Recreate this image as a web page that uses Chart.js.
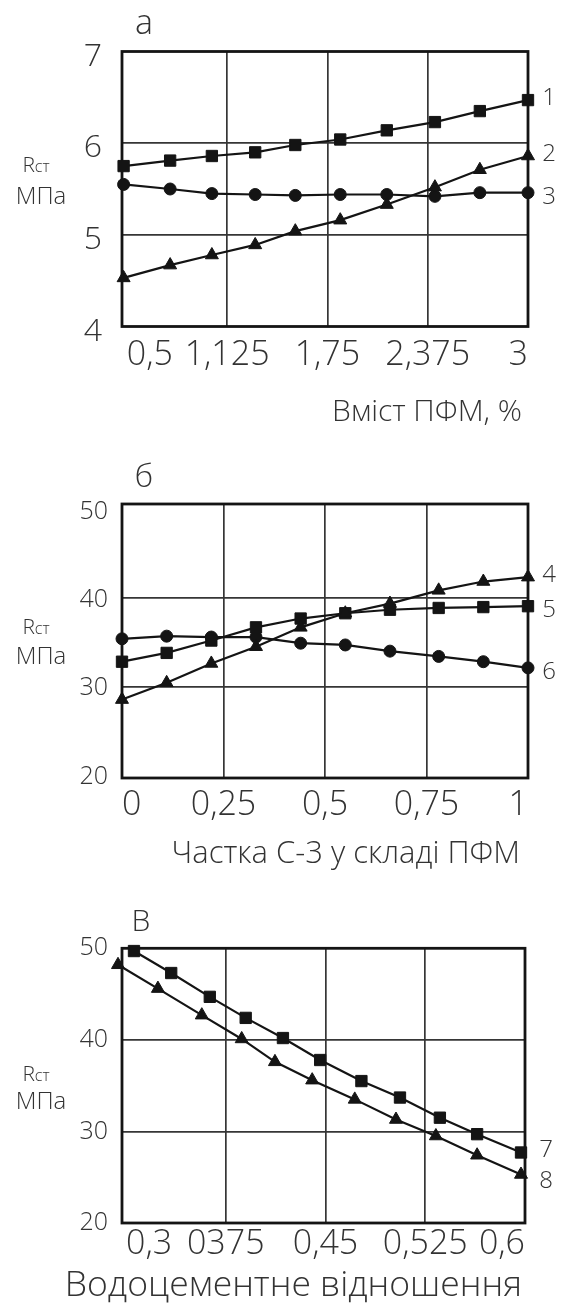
<!DOCTYPE html>
<html>
<head>
<meta charset="utf-8">
<script src="https://cdn.jsdelivr.net/npm/chart.js@4.4.0/dist/chart.umd.min.js"></script>
<style>
html,body{margin:0;padding:0;background:#fff;}
.box{position:relative;width:563px;}
#wa{height:440px}
#wb{height:440px}
#wc{height:429px}
</style>
</head>
<body>
<div class="box" id="wa"><canvas id="ca"></canvas></div>
<div class="box" id="wb"><canvas id="cb"></canvas></div>
<div class="box" id="wc"><canvas id="cc"></canvas></div>
<script>
// ---------- Chart "а": Вміст ПФМ, % ----------
const xA = [0.48, 0.77, 1.03, 1.30, 1.55, 1.83, 2.12, 2.42, 2.70, 3.0];
const s1 = [5.75, 5.81, 5.86, 5.90, 5.98, 6.04, 6.14, 6.23, 6.35, 6.47];
const s2 = [4.53, 4.67, 4.78, 4.89, 5.04, 5.16, 5.33, 5.52, 5.71, 5.86];
const s3 = [5.55, 5.50, 5.45, 5.44, 5.43, 5.44, 5.44, 5.42, 5.46, 5.46];
const xTicksA = [0.5, 1.125, 1.75, 2.375, 3];
const xLabelsA = ['0,5', '1,125', '1,75', '2,375', '3'];
const yTicksA = [4, 5, 6, 7];

// ---------- Chart "б": Частка С-3 у складі ПФМ ----------
const xB = [0, 0.11, 0.22, 0.33, 0.44, 0.55, 0.66, 0.78, 0.89, 1.0];
const s4 = [28.5, 30.4, 32.6, 34.5, 36.7, 38.3, 39.4, 40.9, 41.9, 42.4];
const s5 = [32.8, 33.8, 35.2, 36.7, 37.7, 38.3, 38.7, 38.9, 39.0, 39.1];
const s6 = [35.4, 35.7, 35.6, 35.6, 34.9, 34.7, 34.0, 33.4, 32.8, 32.1];
const xTicksB = [0, 0.25, 0.5, 0.75, 1];
const xLabelsB = ['0', '0,25', '0,5', '0,75', '1'];
const yTicksB = [20, 30, 40, 50];

// ---------- Chart "В": Водоцементне відношення ----------
const xC7 = [0.306, 0.334, 0.363, 0.390, 0.418, 0.446, 0.477, 0.506, 0.536, 0.564, 0.597];
const s7  = [49.7, 47.3, 44.7, 42.4, 40.2, 37.8, 35.5, 33.7, 31.5, 29.7, 27.7];
const xC8 = [0.294, 0.324, 0.357, 0.387, 0.412, 0.440, 0.472, 0.503, 0.533, 0.564, 0.597];
const s8  = [48.2, 45.6, 42.7, 40.1, 37.6, 35.6, 33.5, 31.3, 29.5, 27.4, 25.3];
const xTicksC = [0.3, 0.375, 0.45, 0.525, 0.6];
const xLabelsC = ['0,3', '0375', '0,45', '0,525', '0,6'];
const yTicksC = [20, 30, 40, 50];

// ---------- styling ----------
const FONT = "'Open Sans', 'DejaVu Sans', sans-serif";
const INK = '#141414';
const TXT = '#333333';
const GRID = '#363636';

function series(xs, ys, style, radius) {
  return {
    data: xs.map((x, i) => ({ x: x, y: ys[i] })),
    showLine: true, tension: 0, clip: false,
    borderColor: INK, backgroundColor: INK, borderWidth: 2.2,
    pointStyle: style, pointRadius: radius, pointHoverRadius: radius,
    pointBorderWidth: 1, pointBackgroundColor: INK, pointBorderColor: INK
  };
}

const decor = {
  id: 'decor',
  beforeDatasetsDraw(chart) {
    const { ctx, chartArea: a } = chart;
    ctx.save();
    ctx.lineWidth = 2.8;
    ctx.strokeStyle = INK;
    ctx.strokeRect(a.left, a.top, a.right - a.left, a.bottom - a.top);
    ctx.restore();
  },
  afterDraw(chart, args, o) {
    const { ctx, chartArea: a } = chart;
    ctx.save();
    ctx.fillStyle = TXT;
    ctx.textBaseline = 'middle';
    // panel letter
    ctx.textAlign = 'center';
    ctx.font = `300 ${o.panel.size}px ${FONT}`;
    ctx.fillText(o.panel.text, o.panel.x, o.panel.y);
    // x title
    ctx.textAlign = 'right';
    ctx.font = `300 ${o.xTitle.size}px ${FONT}`;
    ctx.fillText(o.xTitle.text, o.xTitle.x, o.xTitle.y);
    // y title: R + "ст", then МПа
    ctx.textBaseline = 'alphabetic';
    ctx.textAlign = 'left';
    ctx.font = `300 21px ${FONT}`;
    const wR = ctx.measureText('R').width;
    ctx.font = `300 16px ${FONT}`;
    const wS = ctx.measureText('ст').width;
    const x0 = o.yTitle.x - (wR + wS) / 2;
    const base = o.yTitle.y1 + 7;
    ctx.font = `300 21px ${FONT}`;
    ctx.fillText('R', x0, base);
    ctx.font = `300 16px ${FONT}`;
    ctx.fillText('ст', x0 + wR, base);
    ctx.textBaseline = 'middle';
    ctx.textAlign = 'center';
    ctx.font = `300 24px ${FONT}`;
    ctx.fillText('МПа', o.yTitle.x + 5, o.yTitle.y2);
    // series numbers at line ends
    ctx.font = `300 24px ${FONT}`;
    o.labels.forEach(l => {
      const pts = chart.getDatasetMeta(l.ds).data;
      const p = pts[pts.length - 1];
      ctx.fillText(l.text, a.right + 21, p.y + l.dy);
    });
    ctx.restore();
  }
};

function makeChart(id, c) {
  return new Chart(document.getElementById(id), {
    type: 'scatter',
    data: { datasets: c.datasets },
    plugins: [decor],
    options: {
      responsive: true, maintainAspectRatio: false, animation: false,
      devicePixelRatio: 1,
      layout: { padding: { top: c.top, right: c.right, left: 0, bottom: 0 } },
      plugins: {
        legend: { display: false }, tooltip: { enabled: false },
        decor: c.decor
      },
      scales: {
        x: {
          type: 'linear', min: c.xMin, max: c.xMax,
          afterBuildTicks: ax => { ax.ticks = c.xTicks.map(v => ({ value: v })); },
          afterFit: s => { s.height = c.xH; },
          border: { display: false },
          grid: {
            drawTicks: false, lineWidth: 1.7,
            color: g => (g.tick && c.xHide.includes(g.tick.value)) ? 'rgba(0,0,0,0)' : GRID
          },
          ticks: {
            padding: c.xPad, align: 'inner', maxRotation: 0, autoSkip: false,
            color: TXT, font: { family: FONT, size: 34, weight: '300' },
            callback: (v, i) => c.xLabels[i]
          }
        },
        y: {
          type: 'linear', min: c.yMin, max: c.yMax,
          afterBuildTicks: ax => { ax.ticks = c.yTicks.map(v => ({ value: v })); },
          afterFit: s => { s.width = 122; },
          border: { display: false },
          grid: {
            drawTicks: false, lineWidth: 1.7,
            color: g => (g.tick && c.yHide.includes(g.tick.value)) ? 'rgba(0,0,0,0)' : GRID
          },
          ticks: {
            padding: c.yPad, autoSkip: false, labelOffset: c.yOff,
            color: TXT, font: { family: FONT, size: c.yFont, weight: '300' },
            callback: v => String(v)
          }
        }
      }
    }
  });
}

makeChart('ca', {
  datasets: [series(xA, s1, 'rect', 8), series(xA, s2, 'triangle', 7.5), series(xA, s3, 'circle', 6)],
  top: 51.5, right: 35, xH: 113.5, xPad: 8,
  xMin: 0.47, xMax: 3.0, xTicks: xTicksA, xLabels: xLabelsA, xHide: [0.5, 3],
  yMin: 4, yMax: 7, yTicks: yTicksA, yHide: [4, 7], yPad: 20, yFont: 32, yOff: 5,
  decor: {
    panel: { text: 'а', x: 144, y: 24, size: 34 },
    xTitle: { text: 'Вміст ПФМ, %', x: 522, y: 412, size: 30 },
    yTitle: { x: 36, y1: 165, y2: 197 },
    labels: [{ text: '1', ds: 0, dy: -2 }, { text: '2', ds: 1, dy: -2 }, { text: '3', ds: 2, dy: 4 }]
  }
});

makeChart('cb', {
  datasets: [series(xB, s4, 'triangle', 7.5), series(xB, s5, 'rect', 8), series(xB, s6, 'circle', 6)],
  top: 64, right: 35, xH: 102, xPad: 7,
  xMin: 0, xMax: 1, xTicks: xTicksB, xLabels: xLabelsB, xHide: [0, 1],
  yMin: 19.6, yMax: 50.7, yTicks: yTicksB, yHide: [20, 50], yPad: 14, yFont: 25, yOff: 2,
  decor: {
    panel: { text: 'б', x: 144, y: 38, size: 32 },
    xTitle: { text: 'Частка С-3 у складі ПФМ', x: 520, y: 414, size: 31 },
    yTitle: { x: 36, y1: 187, y2: 217 },
    labels: [{ text: '4', ds: 0, dy: -2 }, { text: '5', ds: 1, dy: 4 }, { text: '6', ds: 2, dy: 4 }]
  }
});

makeChart('cc', {
  datasets: [series(xC7, s7, 'rect', 8), series(xC8, s8, 'triangle', 7.5)],
  top: 68.3, right: 38, xH: 86, xPad: 1,
  xMin: 0.297, xMax: 0.6, xTicks: xTicksC, xLabels: xLabelsC, xHide: [0.3, 0.6],
  yMin: 20, yMax: 50, yTicks: yTicksC, yHide: [20, 50], yPad: 14, yFont: 25, yOff: 0,
  decor: {
    panel: { text: 'В', x: 141, y: 42, size: 30 },
    xTitle: { text: 'Водоцементне відношення', x: 522, y: 406, size: 35.5 },
    yTitle: { x: 36, y1: 194, y2: 222 },
    labels: [{ text: '7', ds: 0, dy: -2 }, { text: '8', ds: 1, dy: 7 }]
  }
});
</script>
</body>
</html>
